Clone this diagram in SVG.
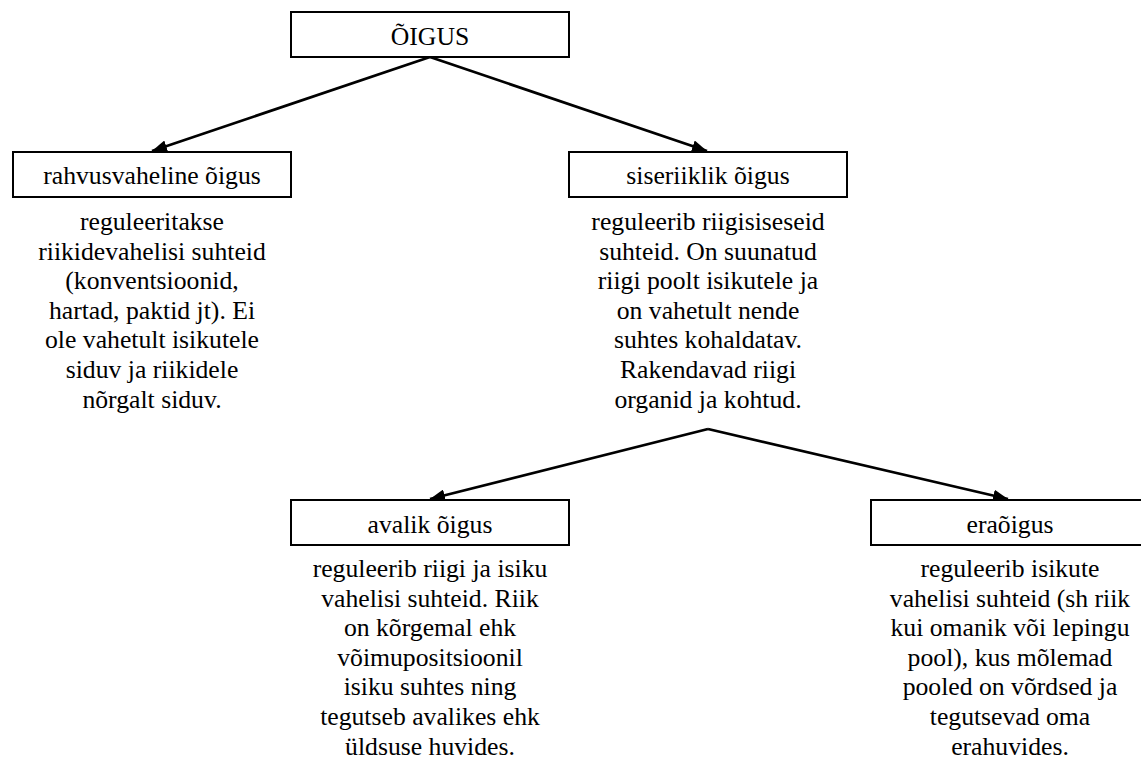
<svg xmlns="http://www.w3.org/2000/svg" width="1141" height="760" viewBox="0 0 1141 760">
<style>
.box{fill:#fff;stroke:#000;stroke-width:2}
.t{font-family:'Liberation Serif','DejaVu Serif',serif;font-size:25.7px;fill:#000;text-anchor:middle}
.c{fill:none;stroke:#000;stroke-width:2.7}
</style>
<defs>
<marker id="ah" markerUnits="userSpaceOnUse" markerWidth="16" markerHeight="12" viewBox="0 0 16 12" refX="15" refY="6" orient="auto">
<path d="M0,0 L15,6 L0,12 z" fill="#000"/>
</marker>
</defs>
<rect width="1141" height="760" fill="#fff"/>
<g id="connectors">
<line class="c" x1="430" y1="57" x2="152" y2="151" marker-end="url(#ah)"/>
<line class="c" x1="430" y1="57" x2="707" y2="151" marker-end="url(#ah)"/>
<line class="c" x1="708" y1="429" x2="430" y2="499" marker-end="url(#ah)"/>
<line class="c" x1="708" y1="429" x2="1008" y2="499" marker-end="url(#ah)"/>
</g>
<g id="oigus">
<rect class="box" x="291" y="12" width="278" height="45"/>
<text class="t" x="430" y="45" font-family="Liberation Serif">ÕIGUS</text>
</g>
<g id="rahvusvaheline">
<rect class="box" x="13" y="152" width="278" height="45"/>
<text class="t" x="152" y="184">rahvusvaheline õigus</text>
<text class="t" x="152" y="230">reguleeritakse</text>
<text class="t" x="152" y="259.6">riikidevahelisi suhteid</text>
<text class="t" x="152" y="289.2">(konventsioonid,</text>
<text class="t" x="152" y="318.8">hartad, paktid jt). Ei</text>
<text class="t" x="152" y="348.4">ole vahetult isikutele</text>
<text class="t" x="152" y="378">siduv ja riikidele</text>
<text class="t" x="152" y="407.6">nõrgalt siduv.</text>
</g>
<g id="siseriiklik">
<rect class="box" x="569" y="152" width="278" height="45"/>
<text class="t" x="708" y="184">siseriiklik õigus</text>
<text class="t" x="708" y="230">reguleerib riigisiseseid</text>
<text class="t" x="708" y="259.6">suhteid. On suunatud</text>
<text class="t" x="708" y="289.2">riigi poolt isikutele ja</text>
<text class="t" x="708" y="318.8">on vahetult nende</text>
<text class="t" x="708" y="348.4">suhtes kohaldatav.</text>
<text class="t" x="708" y="378">Rakendavad riigi</text>
<text class="t" x="708" y="407.6">organid ja kohtud.</text>
</g>
<g id="avalik">
<rect class="box" x="291" y="500" width="278" height="45"/>
<text class="t" x="430" y="533">avalik õigus</text>
<text class="t" x="430" y="577">reguleerib riigi ja isiku</text>
<text class="t" x="430" y="606.6">vahelisi suhteid. Riik</text>
<text class="t" x="430" y="636.2">on kõrgemal ehk</text>
<text class="t" x="430" y="665.8">võimupositsioonil</text>
<text class="t" x="430" y="695.4">isiku suhtes ning</text>
<text class="t" x="430" y="725">tegutseb avalikes ehk</text>
<text class="t" x="430" y="754.6">üldsuse huvides.</text>
</g>
<g id="eraoigus">
<rect class="box" x="871" y="500" width="278" height="45"/>
<text class="t" x="1010" y="533">eraõigus</text>
<text class="t" x="1010" y="577">reguleerib isikute</text>
<text class="t" x="1010" y="606.6">vahelisi suhteid (sh riik</text>
<text class="t" x="1010" y="636.2">kui omanik või lepingu</text>
<text class="t" x="1010" y="665.8">pool), kus mõlemad</text>
<text class="t" x="1010" y="695.4">pooled on võrdsed ja</text>
<text class="t" x="1010" y="725">tegutsevad oma</text>
<text class="t" x="1010" y="754.6">erahuvides.</text>
</g>
</svg>
